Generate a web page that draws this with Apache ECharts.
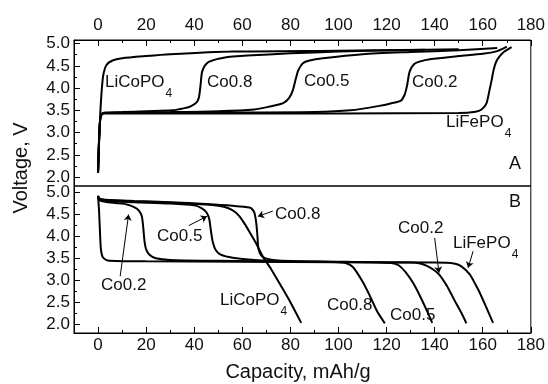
<!DOCTYPE html>
<html>
<head>
<meta charset="utf-8">
<script src="https://cdn.jsdelivr.net/npm/echarts@6/dist/echarts.min.js"></script>
<style>
  html, body { margin: 0; padding: 0; background: #fff; }
  #chart { width: 548px; height: 384px; }
</style>
</head>
<body>
<div id="chart"></div>
<script>
// tick values
var capTicks = [0, 20, 40, 60, 80, 100, 120, 140, 160, 180];
var capMinor = [10, 30, 50, 70, 90, 110, 130, 150, 170];
var voltTicks = [2.0, 2.5, 3.0, 3.5, 4.0, 4.5, 5.0];
var voltMinor = [2.25, 2.75, 3.25, 3.75, 4.25, 4.75];

// panel A: charge curves [capacity mAh/g, voltage V]
var chgLiCoPO4 = [[0,2.1],[0.5,2.9],[1,3.5],[1.6,4.0],[2.2,4.3],[3.5,4.52],[6,4.62],[10,4.67],[20,4.72],[30,4.76],[56,4.82],[100,4.84],[136,4.86]];
var chgCo08 = [[0,2.1],[0.4,2.8],[0.9,3.3],[1.6,3.42],[3,3.45],[10,3.46],[20,3.48],[31,3.5],[36,3.55],[38.5,3.59],[41,3.68],[42,3.8],[42.7,4.1],[43.3,4.37],[45.3,4.56],[49.4,4.65],[56,4.71],[62,4.73],[80,4.78],[100,4.82],[125,4.85],[150,4.87]];
var chgCo05 = [[0,2.1],[0.4,2.8],[0.9,3.3],[1.6,3.42],[3,3.44],[10,3.45],[30,3.46],[50,3.48],[65,3.52],[71,3.58],[77,3.66],[79.5,3.78],[81,3.95],[82.2,4.2],[83.3,4.4],[85.2,4.56],[88,4.62],[93.5,4.67],[110,4.76],[130,4.81],[150,4.85],[166,4.9]];
var chgCo02 = [[0,2.1],[0.4,2.8],[0.9,3.3],[1.6,3.42],[3,3.44],[30,3.44],[60,3.45],[90,3.46],[105,3.5],[117,3.6],[122,3.66],[126,3.72],[127.5,3.85],[128.5,4.05],[129.6,4.37],[131.5,4.54],[134,4.6],[138,4.65],[150,4.72],[160,4.77],[166,4.83],[170,4.93]];
var chgLiFePO4 = [[0,2.1],[0.4,2.8],[0.9,3.3],[1.6,3.42],[3,3.43],[50,3.43],[100,3.43],[150,3.44],[157,3.47],[159.5,3.52],[161.5,3.65],[162.8,3.95],[163.6,4.15],[164.5,4.4],[165.5,4.58],[167,4.71],[169,4.82],[172,4.92]];

// panel B: discharge curves
var disLiCoPO4 = [[0,4.92],[0.5,4.85],[3,4.82],[15,4.79],[30,4.76],[45,4.72],[50,4.69],[54,4.64],[57,4.55],[59,4.44],[61,4.28],[63.5,4.05],[65.5,3.86],[67,3.7],[68.6,3.53],[72,3.25],[76,2.88],[80,2.5],[84.5,2.03]];
var disCo08 = [[0,4.92],[0.5,4.86],[3,4.83],[15,4.8],[30,4.77],[45,4.73],[56,4.69],[63,4.65],[64.3,4.6],[65.1,4.52],[65.8,4.3],[66.3,4.0],[66.7,3.72],[67.9,3.56],[70,3.49],[75,3.45],[85,3.43],[100,3.41],[103,3.39],[106,3.3],[110,2.97],[113,2.65],[116,2.3],[119.3,2.02]];
var disCo05 = [[0,4.9],[0.5,4.84],[3,4.8],[15,4.77],[30,4.74],[40,4.7],[43,4.64],[45,4.55],[46.2,4.4],[47,4.1],[47.8,3.85],[49,3.68],[51,3.58],[56,3.51],[65,3.46],[80,3.43],[100,3.42],[122,3.39],[125,3.34],[128,3.18],[131,2.94],[134,2.63],[137,2.28],[139,2.03]];
var disCo02 = [[0,4.9],[0.5,4.82],[3,4.78],[8,4.75],[12,4.72],[15,4.66],[17,4.58],[18.2,4.45],[18.8,4.2],[19.3,3.9],[20,3.7],[21.5,3.57],[24,3.5],[30,3.46],[50,3.44],[80,3.42],[110,3.41],[130,3.4],[134,3.38],[137,3.32],[140,3.22],[142,3.12],[145,2.88],[148,2.57],[151,2.27],[153.2,2.02]];
var disLiFePO4 = [[0,4.9],[0.4,4.6],[0.8,4.1],[1.2,3.7],[2,3.52],[4,3.45],[20,3.43],[60,3.42],[100,3.41],[140,3.4],[148,3.38],[151,3.32],[154.6,3.13],[157,2.9],[158.8,2.71],[161.5,2.38],[164.3,2.03]];

// leader arrows in panel B, [from, to]
var arrows = [
  [[72.7,4.57],[66.5,4.45]],
  [[37.7,4.24],[45.3,4.45]],
  [[9.2,3.09],[12.7,4.49]],
  [[140,3.96],[141.8,3.17]],
  [[156,3.66],[153.9,3.28]]
];

var FONT = '"Liberation Sans", Arial, sans-serif';
var chart = echarts.init(document.getElementById('chart'));

function xAx(grid, pos, vals, len, labels) {
  return {
    type: 'value', gridIndex: grid, position: pos, min: -10, max: 180,
    axisLine: { show: labels, onZero: false, lineStyle: { color: '#000', width: 1 } },
    axisTick: { show: true, inside: true, length: len, customValues: vals, lineStyle: { color: '#000' } },
    axisLabel: { show: labels, customValues: vals, margin: pos === 'top' ? 6 : 4, fontSize: 17, fontFamily: FONT, color: '#111' },
    splitLine: { show: false }
  };
}
function yAx(grid, max, vals, len, labels) {
  return {
    type: 'value', gridIndex: grid, position: 'left', min: 1.8, max: max,
    axisLine: { show: labels, onZero: false, lineStyle: { color: '#000', width: 1 } },
    axisTick: { show: true, inside: true, length: len, customValues: vals, lineStyle: { color: '#000' } },
    axisLabel: { show: labels, customValues: vals, margin: 4, fontSize: 17, fontFamily: FONT, color: '#111',
      formatter: function (v) { return v.toFixed(1); } },
    splitLine: { show: false }
  };
}
function curve(data, panel) {
  return {
    type: 'line', data: data, xAxisIndex: panel * 2, yAxisIndex: panel * 2,
    showSymbol: false, smooth: 0.25, silent: true,
    lineStyle: { color: '#000', width: 2 }
  };
}
function txt(x, y, s, size) {
  return {
    type: 'text', x: x, y: y, silent: true,
    style: { text: s, fontSize: size || 17, fontFamily: FONT, fill: '#111', textVerticalAlign: 'middle' }
  };
}
// text with a subscript 4; y is the middle of the main text
function subTxt(x, y, s) {
  return {
    type: 'text', x: x, y: y - 10, silent: true,
    style: {
      text: '{m|' + s + '}{s|4}', fontFamily: FONT, fill: '#111', textVerticalAlign: 'top',
      rich: {
        m: { fontSize: 17, lineHeight: 20, verticalAlign: 'top', fontFamily: FONT, color: '#111' },
        s: { fontSize: 12, lineHeight: 12, padding: [14, 0, 0, 1], verticalAlign: 'top', fontFamily: FONT, color: '#111' }
      }
    }
  };
}

var seriesB = curve(disLiFePO4, 1);
seriesB.markLine = {
  silent: true, symbol: ['none', 'arrow'], symbolSize: 6,
  label: { show: false },
  lineStyle: { color: '#000', width: 1, type: 'solid' },
  data: arrows.map(function (a) { return [{ coord: a[0] }, { coord: a[1] }]; })
};

var option = {
  animation: false,
  backgroundColor: '#fff',
  grid: [
    { left: 74, top: 40, width: 457, height: 146, show: true, borderColor: '#000', borderWidth: 1 },
    { left: 74, top: 186, width: 457, height: 147, show: true, borderColor: '#000', borderWidth: 1 }
  ],
  xAxis: [
    xAx(0, 'top', capTicks, 6, true),
    xAx(0, 'top', capMinor, 3, false),
    xAx(1, 'bottom', capTicks, 6, true),
    xAx(1, 'bottom', capMinor, 3, false)
  ],
  yAxis: [
    yAx(0, 5.08, voltTicks, 6, true),
    yAx(0, 5.08, voltMinor, 3, false),
    yAx(1, 5.14, voltTicks, 6, true),
    yAx(1, 5.14, voltMinor, 3, false)
  ],
  series: [
    curve(chgLiCoPO4, 0), curve(chgCo08, 0), curve(chgCo05, 0), curve(chgCo02, 0), curve(chgLiFePO4, 0),
    curve(disLiCoPO4, 1), curve(disCo08, 1), curve(disCo05, 1), curve(disCo02, 1), seriesB
  ],
  graphic: [
    // panel A labels
    subTxt(105, 84, 'LiCoPO'),
    txt(207, 82, 'Co0.8'),
    txt(304, 81, 'Co0.5'),
    txt(412, 82, 'Co0.2'),
    subTxt(446, 124, 'LiFePO'),
    txt(509, 164, 'A', 18),
    // panel B labels
    txt(509, 202, 'B', 18),
    txt(275, 214, 'Co0.8'),
    txt(398, 228, 'Co0.2'),
    subTxt(453, 245, 'LiFePO'),
    txt(157, 236, 'Co0.5'),
    txt(101, 285, 'Co0.2'),
    subTxt(220, 302, 'LiCoPO'),
    txt(327, 305, 'Co0.8'),
    txt(390, 315, 'Co0.5'),
    // axis titles
    {
      type: 'text', x: 298, y: 372, silent: true,
      style: { text: 'Capacity, mAh/g', fontSize: 20, fontFamily: FONT, fill: '#111', textAlign: 'center', textVerticalAlign: 'middle' }
    },
    {
      type: 'text', x: 21, y: 168, rotation: Math.PI / 2, silent: true,
      style: { text: 'Voltage, V', fontSize: 20, fontFamily: FONT, fill: '#111', textAlign: 'center', textVerticalAlign: 'middle' }
    }
  ]
};
chart.setOption(option);
</script>
</body>
</html>
